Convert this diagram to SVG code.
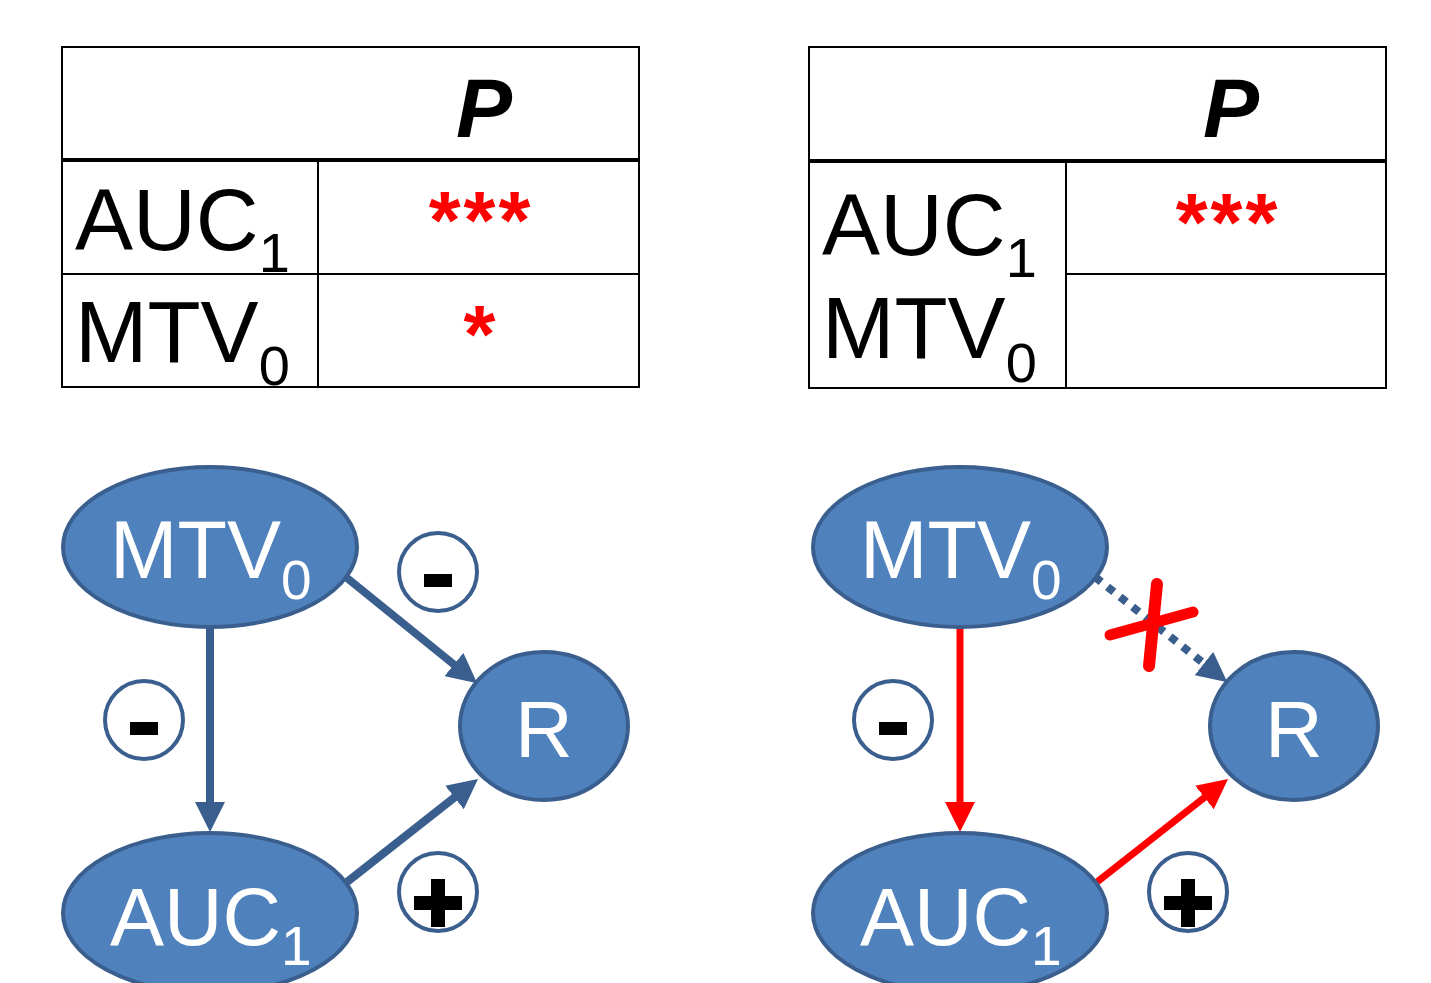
<svg xmlns="http://www.w3.org/2000/svg" width="1431" height="983" viewBox="0 0 1431 983">
<defs>
<style>
.tbl{fill:none;stroke:#000;stroke-width:2}
.hdr{stroke:#000;stroke-width:4}
.ln{stroke:#000;stroke-width:2}
.tt{font-family:"Liberation Sans",Arial,sans-serif;fill:#000}
.p{font-family:"Liberation Sans",Arial,sans-serif;font-weight:bold;font-style:italic;font-size:84px;fill:#000}
.ast{font-family:"Liberation Sans",Arial,sans-serif;font-weight:bold;font-size:82px;letter-spacing:3px;fill:#ff0000}
.node{fill:#4f81bd;stroke:#3a5f8e;stroke-width:4}
.nt{font-family:"Liberation Sans",Arial,sans-serif;fill:#fff}
.badge{fill:#fff;stroke:#3a5f8e;stroke-width:4}
.blue{stroke:#3a5f8e;stroke-width:8;fill:none}
.red{stroke:#ff0000;stroke-width:7;fill:none}
.dot{stroke:#3a5f8e;stroke-width:8;fill:none;stroke-dasharray:8 8}
</style>
<marker id="ab" markerUnits="userSpaceOnUse" markerWidth="30" markerHeight="30" refX="4" refY="15" orient="auto" viewBox="0 0 30 30"><path d="M0,0 L30,15 L0,30 z" fill="#3a5f8e"/></marker>
<marker id="ar" markerUnits="userSpaceOnUse" markerWidth="30" markerHeight="30" refX="4" refY="15" orient="auto" viewBox="0 0 30 30"><path d="M0,0 L30,15 L0,30 z" fill="#ff0000"/></marker>
</defs>
<rect width="1431" height="983" fill="#fff"/>

<g id="table-left">
<rect class="tbl" x="62" y="47" width="577" height="340"/>
<line class="hdr" x1="62" y1="160" x2="639" y2="160"/>
<line class="ln" x1="62" y1="274" x2="639" y2="274"/>
<line class="ln" x1="318" y1="160" x2="318" y2="387"/>
<text class="p" x="456" y="137">P</text>
<text class="tt" x="75" y="250" font-size="87">AUC<tspan font-size="56" dy="22">1</tspan></text>
<text class="tt" x="75" y="362" font-size="87">MTV<tspan font-size="56" dy="23">0</tspan></text>
<text class="ast" x="481" y="248" text-anchor="middle">***</text>
<text class="ast" x="481" y="362" text-anchor="middle">*</text>
</g>

<g id="table-right">
<rect class="tbl" x="809" y="47" width="577" height="341"/>
<line class="hdr" x1="809" y1="161" x2="1386" y2="161"/>
<line class="ln" x1="1066" y1="274" x2="1386" y2="274"/>
<line class="ln" x1="1066" y1="161" x2="1066" y2="388"/>
<text class="p" x="1203" y="137">P</text>
<text class="tt" x="822" y="255" font-size="87">AUC<tspan font-size="56" dy="22">1</tspan></text>
<text class="tt" x="822" y="358" font-size="87">MTV<tspan font-size="56" dy="24">0</tspan></text>
<text class="ast" x="1228" y="250" text-anchor="middle">***</text>
</g>

<g id="connectors">
<line class="blue" x1="210" y1="628" x2="210" y2="806" marker-end="url(#ab)"/>
<line class="blue" x1="347" y1="578" x2="457" y2="667" marker-end="url(#ab)"/>
<line class="blue" x1="347" y1="882" x2="457.6" y2="795" marker-end="url(#ab)"/>
<line class="red" x1="960" y1="628" x2="960" y2="806" marker-end="url(#ar)"/>
<line class="dot" x1="1095" y1="577" x2="1207" y2="666" marker-end="url(#ab)"/>
<line class="red" x1="1097" y1="882" x2="1207.6" y2="795" marker-end="url(#ar)"/>
</g>

<g id="node-mtv0-left">
<ellipse class="node" cx="210" cy="547" rx="147" ry="80"/>
<text class="nt" x="110" y="578" font-size="81">MTV<tspan font-size="55" dy="21">0</tspan></text>
</g>
<g id="node-auc1-left">
<ellipse class="node" cx="210" cy="913" rx="147" ry="80"/>
<text class="nt" x="110" y="945" font-size="81">AUC<tspan font-size="55" dy="20">1</tspan></text>
</g>
<g id="node-r-left">
<ellipse class="node" cx="544" cy="726" rx="84" ry="74"/>
<text class="nt" x="544" y="757" font-size="80" text-anchor="middle">R</text>
</g>

<g id="node-mtv0-right">
<ellipse class="node" cx="960" cy="547" rx="147" ry="80"/>
<text class="nt" x="860" y="578" font-size="81">MTV<tspan font-size="55" dy="21">0</tspan></text>
</g>
<g id="node-auc1-right">
<ellipse class="node" cx="960" cy="913" rx="147" ry="80"/>
<text class="nt" x="860" y="945" font-size="81">AUC<tspan font-size="55" dy="20">1</tspan></text>
</g>
<g id="node-r-right">
<ellipse class="node" cx="1294" cy="726" rx="84" ry="74"/>
<text class="nt" x="1294" y="757" font-size="80" text-anchor="middle">R</text>
</g>

<g id="badge-minus-1">
<ellipse class="badge" cx="438" cy="572" rx="39" ry="39"/>
<rect x="424" y="574" width="28" height="13" fill="#000"/>
</g>
<g id="badge-minus-2">
<ellipse class="badge" cx="144" cy="720" rx="39" ry="39"/>
<rect x="130" y="722" width="28" height="13" fill="#000"/>
</g>
<g id="badge-plus-1">
<ellipse class="badge" cx="438" cy="892" rx="39" ry="39"/>
<path d="M431,879 h14 v17 h17 v14 h-17 v17 h-14 v-17 h-17 v-14 h17 z" fill="#000"/>
</g>
<g id="badge-minus-3">
<ellipse class="badge" cx="893" cy="720" rx="39" ry="39"/>
<rect x="879" y="722" width="28" height="13" fill="#000"/>
</g>
<g id="badge-plus-2">
<ellipse class="badge" cx="1188" cy="892" rx="39" ry="39"/>
<path d="M1181,879 h14 v17 h17 v14 h-17 v17 h-14 v-17 h-17 v-14 h17 z" fill="#000"/>
</g>

<g id="cross">
<line x1="1157" y1="584" x2="1149" y2="666" stroke="#ff0000" stroke-width="12" stroke-linecap="round"/>
<line x1="1110" y1="635" x2="1193" y2="612" stroke="#ff0000" stroke-width="11" stroke-linecap="round"/>
</g>
</svg>
